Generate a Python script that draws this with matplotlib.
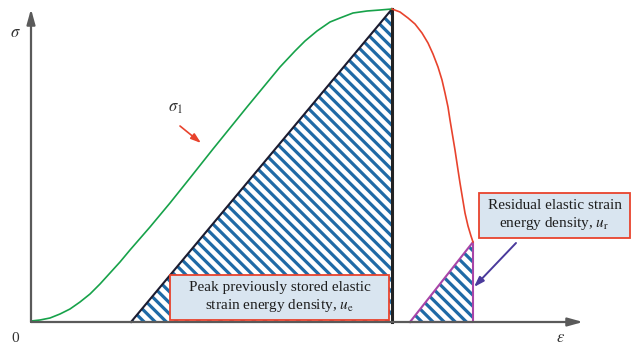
import numpy as np
import matplotlib
matplotlib.use('Agg')
from matplotlib import pyplot as plt
from matplotlib.patches import Polygon, Rectangle

plt.rcParams['font.family'] = ['Liberation Serif', 'DejaVu Serif']
plt.rcParams['mathtext.fontset'] = 'stix'
plt.rcParams['hatch.linewidth'] = 2.3

# loading branch (sigma_1), strain / stress in arbitrary units
eps_load = [0, 9, 19, 29, 39, 49, 59, 69, 79, 89, 99, 119, 139, 159, 182, 216, 249,
            264, 274, 286, 299, 309, 322, 336, 349, 361]
sig_load = [1, 2, 4, 8, 13, 20, 28, 38, 49, 60, 72, 95, 119, 144, 173, 215, 255,
            271, 281, 291, 300, 304, 309, 311, 312, 313]

# post-peak branch
eps_post = [361, 369, 377, 384, 391, 397, 402, 407, 411, 414, 417, 419, 422, 424, 427,
            429, 432, 434, 437, 440, 442]
sig_post = [313, 310, 304, 298, 289, 279, 268, 255, 242, 229, 215, 202, 184, 172, 152,
            139, 121, 109, 96, 86, 80]

# energy triangles
ue_eps = [100, 361, 361]
ue_sig = [0, 313, 0]
ur_eps = [379, 442, 442]
ur_sig = [0, 80, 0]

blue = '#1f6aa6'
red = '#e8432d'
green = '#17a24a'
purple = '#a845a8'
axcol = '#5a5a5a'

fig = plt.figure(figsize=(6.37, 3.47), dpi=100)
ax = fig.add_axes([0, 0, 1, 1])
ax.set_xlim(-31, 606)
ax.set_ylim(-25, 322)
ax.axis('off')

# hatched areas
ax.add_patch(Polygon(list(zip(ue_eps, ue_sig)), closed=True, facecolor='white',
                     edgecolor=blue, linewidth=0, hatch='\\\\\\', zorder=2))
ax.add_patch(Polygon(list(zip(ur_eps, ur_sig)), closed=True, facecolor='white',
                     edgecolor=blue, linewidth=0, hatch='\\\\\\', zorder=2))
ax.plot(ue_eps[:2], ue_sig[:2], color='#1c1c30', lw=1.5, zorder=3)
ax.plot(ue_eps[1:], ue_sig[1:], color='#222222', lw=2.2, zorder=3)
ax.plot(ur_eps + [ur_eps[0]], ur_sig + [ur_sig[0]], color=purple, lw=1.5, zorder=3)

# curves
ax.plot(eps_load, sig_load, color=green, lw=1.2, zorder=3)
ax.plot(eps_post, sig_post, color=red, lw=1.2, zorder=3)

# axes with arrows
ax.annotate('', xy=(552, 0), xytext=(0, 0),
            arrowprops=dict(arrowstyle='-|>,head_length=0.9,head_width=0.25', color=axcol, lw=1.6,
                            shrinkA=0, shrinkB=0), zorder=4)
ax.annotate('', xy=(0, 313), xytext=(0, 0),
            arrowprops=dict(arrowstyle='-|>,head_length=0.9,head_width=0.25', color=axcol, lw=1.6,
                            shrinkA=0, shrinkB=0), zorder=4)

# text boxes
ax.add_patch(Rectangle((139, 2), 219, 45, facecolor='#d9e5f0', edgecolor=red, lw=1.3, zorder=5))
ax.text(248.5, 24.5, 'Peak previously stored elastic\nstrain energy density, $u_{\\mathrm{e}}$',
        ha='center', va='center', fontsize=11, linespacing=1.2, color='#1e1e1e', zorder=6)
ax.add_patch(Rectangle((448, 84), 151, 45, facecolor='#d9e5f0', edgecolor=red, lw=1.3, zorder=5))
ax.text(523.5, 106.5, 'Residual elastic strain\nenergy density, $u_{\\mathrm{r}}$',
        ha='center', va='center', fontsize=11, linespacing=1.2, color='#1e1e1e', zorder=6)

# pointer arrows
ax.annotate('', xy=(170, 179), xytext=(149, 196),
            arrowprops=dict(arrowstyle='-|>,head_length=0.6,head_width=0.2', color=red, lw=1.2,
                            shrinkA=0, shrinkB=0))
ax.annotate('', xy=(443, 35), xytext=(485, 79),
            arrowprops=dict(arrowstyle='-|>,head_length=0.6,head_width=0.2', color='#4a3a9c', lw=1.4,
                            shrinkA=0, shrinkB=0))

# labels
ax.text(-16, 289, '$\\sigma$', fontsize=12, ha='center', va='center', color='#333333')
ax.text(-16, -16, '0', fontsize=11, ha='center', va='center', color='#333333')
ax.text(530, -16, '$\\varepsilon$', fontsize=12, ha='center', va='center', color='#333333')
ax.text(144, 214, '$\\sigma_1$', fontsize=12, ha='center', va='center', color='#333333')

fig.savefig('out.png', dpi=100)
plt.close(fig)
